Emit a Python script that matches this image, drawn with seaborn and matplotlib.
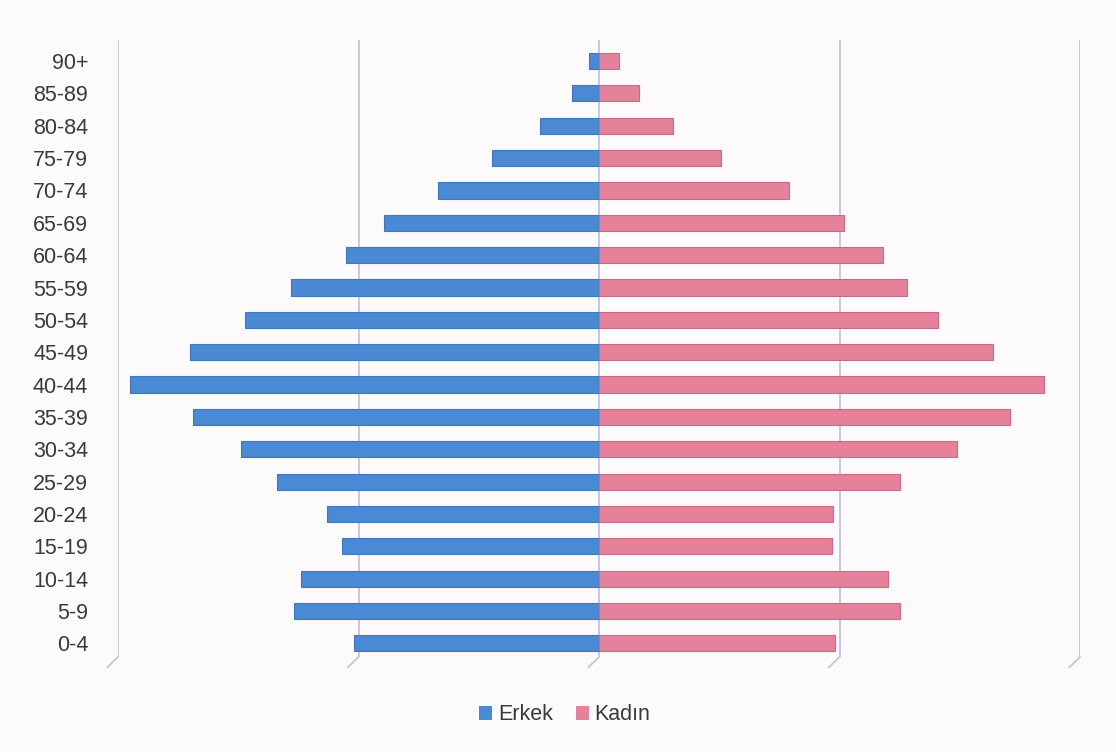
import numpy as np
import pandas as pd
import matplotlib
matplotlib.use("Agg")
import matplotlib.pyplot as plt
import matplotlib.transforms as mtransforms
from matplotlib.patches import Patch
import seaborn as sns

age_groups = ["90+", "85-89", "80-84", "75-79", "70-74", "65-69", "60-64", "55-59",
              "50-54", "45-49", "40-44", "35-39", "30-34", "25-29", "20-24", "15-19",
              "10-14", "5-9", "0-4"]
erkek = [4.2, 11.3, 24.6, 44.6, 67, 89.6, 105, 128, 147, 170, 195, 169, 149, 134,
         113, 107, 124, 127, 102]
kadin = [8.3, 16.7, 30.8, 50.8, 78.8, 102, 118, 128, 141, 164, 185, 171, 149, 125,
         97.5, 97, 120, 125, 98]
series_names = ["Erkek", "Kadın"]
grid_values = [-200, -100, 0, 100, 200]

df = pd.DataFrame({
    "age": age_groups * 2,
    "sex": [series_names[0]] * len(age_groups) + [series_names[1]] * len(age_groups),
    "value": [-v for v in erkek] + kadin,
})

sns.set_theme(style="white")
plt.rcParams["font.family"] = ["Liberation Sans", "DejaVu Sans"]

bg = "#fdfafb"
colors = {"Erkek": "#4a89d3", "Kadın": "#e4829b"}
edges = {"Erkek": "#3f78bd", "Kadın": "#c96b84"}

fig = plt.figure(figsize=(11.16, 7.52), dpi=100, facecolor=bg)
ax = fig.add_axes([118 / 1116, 1 - 657 / 752, (1080 - 118) / 1116, (657 - 40) / 752])
ax.set_facecolor(bg)

sns.barplot(data=df, y="age", x="value", hue="sex", order=age_groups,
            hue_order=series_names, palette=colors, dodge=False, orient="h",
            width=0.5, saturation=1, ax=ax, legend=False, zorder=3)

for bar_patches, name in zip(ax.containers, series_names):
    for p in bar_patches:
        p.set_edgecolor(edges[name])
        p.set_linewidth(0.8)

ax.set_xlim(-200, 200)
ax.set_ylim(18.42, -0.65)
ax.set_xlabel("")
ax.set_ylabel("")
ax.set_xticks(grid_values)
ax.set_xticklabels([])
ax.tick_params(axis="x", length=0)
ax.tick_params(axis="y", length=0, labelsize=15.5, labelcolor="#3a3a3a", pad=21.5)
for s in ax.spines.values():
    s.set_visible(False)

gcol = "#c9c1dd"
for gv in grid_values:
    ax.axvline(gv, color=gcol, lw=1.3, zorder=1)

# slanted "floor" feet at the bottom of each gridline
trans = mtransforms.blended_transform_factory(ax.transData, ax.transAxes)
for gv in grid_values:
    ax.plot([gv, gv - 4.5], [0.0, -0.017], color=gcol, lw=1.3, transform=trans,
            clip_on=False, zorder=1)

handles = [Patch(facecolor=colors[n], edgecolor="none", label=n) for n in series_names]
fig.legend(handles=handles, loc="center", bbox_to_anchor=(565 / 1116, 1 - 715 / 752),
           ncol=2, frameon=False, fontsize=15.5, handlelength=0.6, handleheight=0.6,
           handletextpad=0.25, columnspacing=1.1, labelcolor="#3a3a3a")

fig.savefig("out.png", dpi=100, facecolor=bg)
